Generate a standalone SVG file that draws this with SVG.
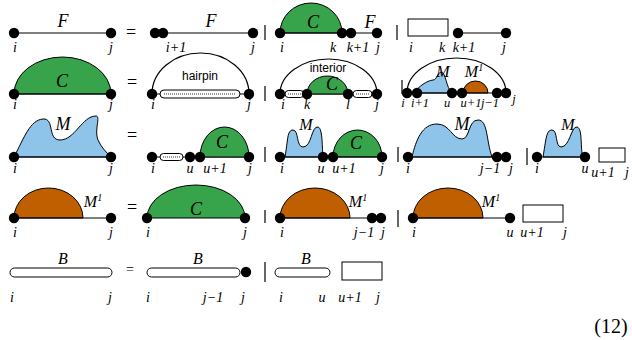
<svg xmlns="http://www.w3.org/2000/svg" width="632" height="340" viewBox="0 0 632 340">
<style>
.ln{stroke:#000;stroke-width:1.2;fill:none}
.sh{stroke:#000;stroke-width:1}
.g{fill:#37a34a}
.b{fill:#8ec3ea}
.o{fill:#c05f00}
.pill{fill:#fff;stroke:#000;stroke-width:1}
.dt{stroke:#000;stroke-width:0.8;stroke-dasharray:1 1;fill:none}
.box{fill:#fff;stroke:#000;stroke-width:1}
.lab{font-family:"Liberation Serif",serif;font-style:italic;font-size:14px;text-anchor:middle}
.sm{font-size:12.5px}
.big{font-family:"Liberation Serif",serif;font-style:italic;font-size:18px;text-anchor:middle}
.eq{font-family:"Liberation Serif",serif;font-size:18px;text-anchor:middle}
.sans{font-family:"Liberation Sans",sans-serif;font-size:12px;text-anchor:middle}
</style>
<defs>
<circle id="d" r="5.2" fill="#000"/>
</defs>

<!-- Row 1 : F -->
<g id="F_lhs">
<line class="ln" x1="14" y1="33" x2="111" y2="33"/>
<use href="#d" x="14" y="33"/><use href="#d" x="111" y="33"/>
<text class="big" x="63" y="27">F</text>
<text class="lab" x="15" y="52">i</text><text class="lab" x="111" y="52">j</text>
</g>
<text class="eq" x="131" y="38">=</text>
<g id="F_t1">
<line class="ln" x1="163" y1="33" x2="253" y2="33"/>
<use href="#d" x="155" y="33"/><use href="#d" x="163" y="33"/><use href="#d" x="253" y="33"/>
<text class="big" x="211" y="27">F</text>
<text class="lab" x="176" y="52">i+1</text><text class="lab" x="253" y="52">j</text>
</g>
<g id="F_t2">
<path class="g sh" d="M280 33 A31 30 0 0 1 342 33 Z"/>
<line class="ln" x1="280" y1="33" x2="377" y2="33"/>
<use href="#d" x="280" y="33"/><use href="#d" x="342" y="33"/><use href="#d" x="351" y="33"/><use href="#d" x="377" y="33"/>
<text class="big" x="313" y="28">C</text><text class="big" x="370" y="28">F</text>
<text class="lab" x="282" y="52">i</text><text class="lab" x="333" y="52">k</text><text class="lab" x="358" y="52">k+1</text><text class="lab" x="378" y="52">j</text>
</g>
<g id="F_t3">
<rect class="box" x="408" y="19" width="40" height="17"/>
<line class="ln" x1="458" y1="33" x2="506" y2="33"/>
<use href="#d" x="458" y="33"/><use href="#d" x="506" y="33"/>
<text class="lab" x="411" y="52">i</text><text class="lab" x="442" y="52">k</text><text class="lab" x="464" y="52">k+1</text><text class="lab" x="504" y="52">j</text>
</g>

<!-- Row 2 : C -->
<g id="C_lhs">
<path class="g sh" d="M14 94 A48.5 37 0 0 1 111 94 Z"/>
<line class="ln" x1="14" y1="94" x2="111" y2="94"/>
<use href="#d" x="14" y="94"/><use href="#d" x="111" y="94"/>
<text class="big" x="62" y="87">C</text>
<text class="lab" x="15" y="109">i</text><text class="lab" x="111" y="109">j</text>
</g>
<text class="eq" x="132" y="88">=</text>
<g id="C_hairpin">
<path class="ln" d="M152 94 A48.5 41 0 0 1 249 94"/>
<line class="ln" x1="152" y1="94" x2="249" y2="94"/>
<rect class="pill" x="160" y="90" width="80" height="8" rx="4"/>
<line class="dt" x1="164" y1="94" x2="236" y2="94"/>
<use href="#d" x="152" y="94"/><use href="#d" x="249" y="94"/>
<text class="sans" x="200" y="80">hairpin</text>
<text class="lab" x="153" y="109">i</text><text class="lab" x="249" y="109">j</text>
</g>
<g id="C_interior">
<path class="ln" d="M280 94 A48.5 35 0 0 1 377 94"/>
<line class="ln" x1="280" y1="94" x2="377" y2="94"/>
<path class="g sh" d="M307 94 A20.5 18 0 0 1 348 94 Z"/>
<rect class="pill" x="285" y="90.5" width="19" height="7" rx="3.5"/>
<line class="dt" x1="288" y1="94" x2="301" y2="94"/>
<rect class="pill" x="353" y="90.5" width="19" height="7" rx="3.5"/>
<line class="dt" x1="356" y1="94" x2="369" y2="94"/>
<use href="#d" x="280" y="94"/><use href="#d" x="307" y="94"/><use href="#d" x="348" y="94"/><use href="#d" x="377" y="94"/>
<text class="sans" x="328" y="72">interior</text>
<text class="big" x="332" y="90">C</text>
<text class="lab" x="283" y="109">i</text><text class="lab" x="307" y="109">k</text><text class="lab" x="348" y="109">l</text><text class="lab" x="377" y="109">j</text>
</g>
<g id="C_multi">
<path class="ln" d="M407 93 A49.5 35 0 0 1 506 93"/>
<path class="b sh" d="M413 93 C420 86 426 81 433 80 C437 80 437 73 441 72 C446 72 446 88 452 93 Z"/>
<path class="o sh" d="M463 93 A12.5 12 0 0 1 488 93 Z"/>
<line class="ln" x1="407" y1="93" x2="506" y2="93"/>
<use href="#d" x="407" y="93"/><use href="#d" x="417" y="93"/><use href="#d" x="452" y="93"/><use href="#d" x="462" y="93"/><use href="#d" x="497" y="93"/><use href="#d" x="506" y="93"/>
<text class="big" x="443" y="77" style="font-size:16px">M</text>
<text class="big" x="474" y="77" style="font-size:16px">M<tspan dy="-6" style="font-size:10px">1</tspan></text>
<text class="lab sm" x="403" y="107">i</text><text class="lab sm" x="420" y="107">i+1</text><text class="lab sm" x="447" y="107">u</text><text class="lab sm" x="471" y="107">u+1</text><text class="lab sm" x="490" y="107">j−1</text><text class="lab sm" x="514" y="103">j</text>
</g>

<!-- Row 3 : M -->
<g id="M_lhs">
<path class="b sh" d="M14 157 C24 138 30 120 43 119 C55 118 47 140 60 140 C75 140 82 116 96 116 C101 116 94 130 98 140 C101 147 106 152 111 157 Z"/>
<line class="ln" x1="14" y1="157" x2="111" y2="157"/>
<use href="#d" x="14" y="157"/><use href="#d" x="111" y="157"/>
<text class="big" x="63" y="130">M</text>
<text class="lab" x="15" y="173">i</text><text class="lab" x="111" y="173">j</text>
</g>
<text class="eq" x="132" y="141">=</text>
<g id="M_t1">
<line class="ln" x1="152" y1="157" x2="249" y2="157"/>
<rect class="pill" x="160" y="153.5" width="23" height="7" rx="3.5"/>
<line class="dt" x1="163" y1="157" x2="180" y2="157"/>
<path class="g sh" d="M200 157 A24.5 30 0 0 1 249 157 Z"/>
<use href="#d" x="152" y="157"/><use href="#d" x="190" y="157"/><use href="#d" x="200" y="157"/><use href="#d" x="249" y="157"/>
<text class="big" x="222" y="148">C</text>
<text class="lab" x="153" y="173">i</text><text class="lab" x="190" y="173">u</text><text class="lab" x="215" y="173">u+1</text><text class="lab" x="250" y="173">j</text>
</g>
<g id="M_t2">
<path class="b sh" d="M285 157 C288 140 287 130 293 130 C299 130 296 147 303 147 C312 147 311 126 318 127 C323 128 322 150 323 157 Z"/>
<path class="g sh" d="M333 157 A24.5 27 0 0 1 382 157 Z"/>
<line class="ln" x1="280" y1="157" x2="382" y2="157"/>
<use href="#d" x="280" y="157"/><use href="#d" x="323" y="157"/><use href="#d" x="333" y="157"/><use href="#d" x="382" y="157"/>
<text class="big" x="306" y="130" style="font-size:16px">M</text>
<text class="big" x="356" y="149">C</text>
<text class="lab" x="282" y="173">i</text><text class="lab" x="321" y="173">u</text><text class="lab" x="344" y="173">u+1</text><text class="lab" x="382" y="173">j</text>
</g>
<g id="M_t3">
<path class="b sh" d="M412 157 C416 140 422 124 437 124 C450 124 452 139 462 139 C470 139 468 120 478 120 C488 120 486 140 492 157 Z"/>
<line class="ln" x1="408" y1="157" x2="506" y2="157"/>
<use href="#d" x="408" y="157"/><use href="#d" x="497" y="157"/><use href="#d" x="506" y="157"/>
<text class="big" x="462" y="130">M</text>
<text class="lab" x="408" y="173">i</text><text class="lab" x="490" y="173">j−1</text><text class="lab" x="511" y="173">j</text>
</g>
<g id="M_t4">
<path class="b sh" d="M543 157 C546 140 546 130 552 130 C558 130 555 147 561 147 C570 147 571 126 577 127 C583 128 580 150 583 157 Z"/>
<line class="ln" x1="537" y1="157" x2="585" y2="157"/>
<use href="#d" x="537" y="157"/><use href="#d" x="585" y="157"/>
<rect class="box" x="599" y="148" width="26" height="14"/>
<text class="big" x="568" y="130" style="font-size:16px">M</text>
<text class="lab" x="537" y="173">i</text><text class="lab" x="585" y="173">u</text><text class="lab" x="603" y="177">u+1</text><text class="lab" x="627" y="177">j</text>
</g>

<!-- Row 4 : M1 -->
<g id="M1_lhs">
<path class="o sh" d="M14 218 A34.5 30 0 0 1 83 218 Z"/>
<line class="ln" x1="14" y1="218" x2="111" y2="218"/>
<use href="#d" x="14" y="218"/><use href="#d" x="111" y="218"/>
<text class="big" x="93" y="207" style="font-size:16px">M<tspan dy="-6" style="font-size:10px">1</tspan></text>
<text class="lab" x="15" y="237">i</text><text class="lab" x="111" y="237">j</text>
</g>
<text class="eq" x="132" y="213">=</text>
<g id="M1_t1">
<path class="g sh" d="M147 218 A49 33 0 0 1 245 218 Z"/>
<use href="#d" x="147" y="218"/><use href="#d" x="245" y="218"/>
<text class="big" x="196" y="215">C</text>
<text class="lab" x="148" y="237">i</text><text class="lab" x="245" y="237">j</text>
</g>
<g id="M1_t2">
<path class="o sh" d="M280 218 A35 30 0 0 1 350 218 Z"/>
<line class="ln" x1="280" y1="218" x2="381" y2="218"/>
<use href="#d" x="280" y="218"/><use href="#d" x="372" y="218"/><use href="#d" x="381" y="218"/>
<text class="big" x="358" y="207" style="font-size:16px">M<tspan dy="-6" style="font-size:10px">1</tspan></text>
<text class="lab" x="282" y="237">i</text><text class="lab" x="364" y="237">j−1</text><text class="lab" x="383" y="237">j</text>
</g>
<g id="M1_t3">
<path class="o sh" d="M413 218 A35 30 0 0 1 483 218 Z"/>
<line class="ln" x1="413" y1="218" x2="510" y2="218"/>
<use href="#d" x="413" y="218"/><use href="#d" x="510" y="218"/>
<rect class="box" x="523" y="205" width="40" height="17"/>
<text class="big" x="491" y="207" style="font-size:16px">M<tspan dy="-6" style="font-size:10px">1</tspan></text>
<text class="lab" x="414" y="237">i</text><text class="lab" x="510" y="237">u</text><text class="lab" x="532" y="237">u+1</text><text class="lab" x="565" y="237">j</text>
</g>

<!-- Row 5 : B -->
<g id="B_lhs">
<rect class="pill" x="10" y="268" width="102" height="9" rx="4.5"/>
<text class="big" x="63" y="264" style="font-size:16px">B</text>
<text class="lab" x="12" y="302">i</text><text class="lab" x="110" y="302">j</text>
</g>
<text class="eq" x="130" y="274" style="font-size:14px">=</text>
<g id="B_t1">
<rect class="pill" x="147" y="268" width="93" height="9" rx="4.5"/>
<use href="#d" x="246" y="272"/>
<text class="big" x="198" y="264" style="font-size:16px">B</text>
<text class="lab" x="148" y="302">i</text><text class="lab" x="213" y="302">j−1</text><text class="lab" x="243" y="302">j</text>
</g>
<g id="B_t2">
<rect class="pill" x="275" y="268" width="55" height="9" rx="4.5"/>
<rect class="box" x="342" y="262" width="40" height="18"/>
<text class="big" x="306" y="264" style="font-size:16px">B</text>
<text class="lab" x="281" y="302">i</text><text class="lab" x="322" y="302">u</text><text class="lab" x="350" y="302">u+1</text><text class="lab" x="378" y="302">j</text>
</g>

<g id="separators">
<line class="ln" x1="265" y1="25" x2="265" y2="40"/>
<line class="ln" x1="397" y1="25" x2="397" y2="40"/>
<line class="ln" x1="265" y1="86" x2="265" y2="101"/>
<line class="ln" x1="402" y1="80" x2="402" y2="94"/>
<line class="ln" x1="265" y1="147" x2="265" y2="162"/>
<line class="ln" x1="398" y1="147" x2="398" y2="162"/>
<line class="ln" x1="527" y1="148" x2="527" y2="165"/>
<line class="ln" x1="265" y1="210" x2="265" y2="223"/>
<line class="ln" x1="398" y1="210" x2="398" y2="227"/>
<line class="ln" x1="265" y1="262" x2="265" y2="282"/>
</g>
<text x="611" y="333" style="font-family:'Liberation Serif',serif;font-size:20px;text-anchor:middle">(12)</text>
</svg>
